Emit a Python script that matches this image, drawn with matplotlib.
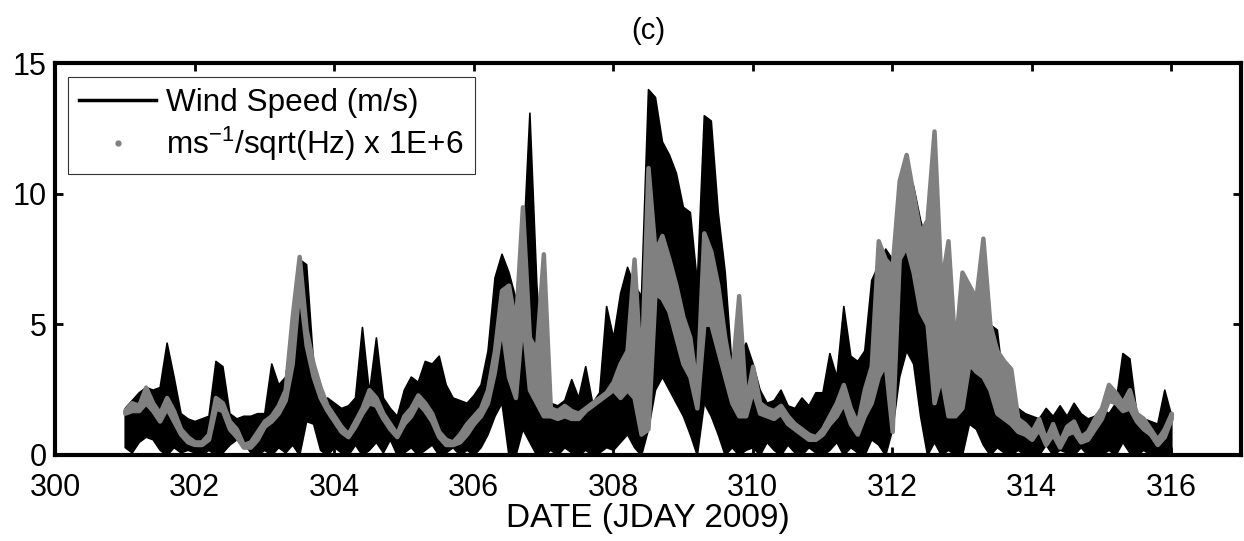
import numpy as np
import matplotlib
matplotlib.use("Agg")
import matplotlib.pyplot as plt
from matplotlib.lines import Line2D

plt.rcParams['font.family'] = ['Liberation Sans', 'DejaVu Sans']
plt.rcParams['mathtext.fontset'] = 'custom'
plt.rcParams['mathtext.rm'] = 'Liberation Sans'
plt.rcParams['mathtext.it'] = 'Liberation Sans:italic'

# samples every 0.1 day from JDAY 301.0 to 316.0
day_start = 301.0
day_step = 0.1

# wind speed: upper and lower edge of the noisy black trace (m/s)
wind_hi = [
    1.8, 2.1, 2.4, 2.6, 2.5, 2.6, 4.3, 3.0, 1.6, 1.4,
    1.3, 1.4, 1.5, 3.6, 3.4, 1.6, 1.4, 1.5, 1.5, 1.6,
    1.6, 3.5, 2.7, 3.0, 5.0, 7.5, 7.3, 3.5, 2.0, 2.2,
    2.0, 1.8, 1.9, 2.2, 4.9, 2.4, 4.5, 2.2, 1.8, 1.5,
    2.5, 3.0, 2.8, 3.6, 3.5, 3.8, 2.7, 2.2, 2.1, 2.0,
    2.3, 2.7, 4.0, 6.8, 7.7, 7.0, 6.0, 7.5, 13.1, 6.5,
    3.0, 2.0, 1.9, 2.1, 2.9, 2.2, 3.4, 2.0, 2.4, 5.7,
    4.5, 6.2, 7.2, 6.5, 6.1, 14.0, 13.7, 12.0, 11.5, 10.8,
    9.5, 9.3, 6.6, 13.0, 12.8, 9.3, 7.0, 3.3, 3.8, 4.3,
    3.5, 2.5, 2.0, 2.1, 2.5, 1.9, 1.8, 2.2, 1.9, 2.4,
    2.4, 3.9, 3.0, 5.7, 3.8, 3.6, 4.0, 6.7, 7.3, 7.9,
    7.5, 9.0, 10.0, 10.3, 9.0, 8.0, 12.4, 4.2, 3.0, 3.5,
    5.0, 5.8, 5.5, 6.0, 5.0, 4.8, 2.5, 2.0, 1.8, 1.6,
    1.5, 1.4, 1.8, 1.5, 1.9, 1.5, 2.0, 1.6, 1.4, 1.5,
    1.8, 1.6, 2.0, 3.9, 3.7, 1.6, 1.4, 1.3, 1.2, 2.5,
    1.5,
]
wind_lo = [
    0.3, 0.1, 0.5, 0.7, 0.6, 0.2, 0.0, 0.3, 0.1, 0.2,
    0.1, 0.0, 0.2, 0.0, 0.1, 0.4, 0.6, 0.5, 0.1, 0.0,
    0.2, 0.0, 0.3, 0.1, 0.4, 0.0, 1.3, 1.2, 0.2, 0.0,
    0.3, 0.1, 0.0, 0.4, 0.0, 0.2, 0.5, 0.1, 0.6, 0.0,
    0.1, 0.3, 0.0, 0.2, 0.4, 0.0, 0.1, 0.3, 0.0, 0.2,
    0.0, 0.3, 0.8, 1.5, 2.0, 0.0, 0.0, 1.0, 0.5, 0.0,
    0.0, 0.2, 0.0, 0.3, 0.1, 0.0, 0.2, 0.0, 0.1, 0.3,
    0.2, 0.5, 0.8, 0.3, 0.0, 1.0, 2.5, 3.0, 2.5, 2.0,
    1.5, 0.8, 0.0, 2.0, 1.5, 0.8, 0.0, 0.3, 0.0, 0.2,
    0.3, 0.0, 0.5, 0.2, 0.0, 0.4, 0.1, 0.0, 0.3, 0.1,
    0.0, 0.2, 0.5, 0.0, 0.3, 0.1, 0.0, 0.6, 0.4, 0.0,
    1.0, 3.0, 4.0, 3.5, 1.5, 0.0, 0.5, 0.0, 0.2, 0.0,
    0.0, 1.2, 1.0, 0.4, 0.0, 0.3, 0.1, 0.0, 0.2, 0.0,
    0.1, 0.0, 0.4, 0.0, 0.2, 0.1, 0.0, 0.3, 0.0, 0.1,
    0.0, 0.2, 0.0, 0.5, 0.1, 0.0, 0.2, 0.0, 0.1, 0.0,
    0.0,
]

# noise spectral level (x 1E+6): upper and lower edge of the grey dots
psd_hi = [
    1.7, 2.0, 1.9, 2.6, 2.0, 1.6, 2.2, 1.7, 1.0, 0.7,
    0.5, 0.5, 0.8, 2.2, 2.0, 1.3, 1.0, 0.4, 0.5, 0.9,
    1.3, 1.5, 1.9, 2.5, 5.3, 7.6, 4.8, 3.5, 2.6, 1.9,
    1.5, 1.1, 0.8, 1.3, 1.8, 2.5, 2.2, 1.6, 1.2, 0.8,
    1.5, 1.8, 2.3, 2.0, 1.6, 0.9, 0.6, 0.5, 0.8, 1.2,
    1.5, 1.8, 2.5, 4.0, 6.3, 6.5, 5.0, 9.5, 4.5, 4.0,
    7.7, 1.8, 1.7, 1.9, 1.7, 1.6, 1.8, 2.0, 2.2, 2.4,
    2.8, 3.5, 4.0, 7.5, 3.0, 11.0, 7.8, 8.4, 7.5, 6.5,
    5.3, 4.5, 2.5, 8.5, 7.8, 6.5, 4.5, 3.0, 6.1, 2.0,
    3.4, 2.0, 1.8, 1.7, 1.9, 1.5, 1.2, 1.0, 0.8, 0.7,
    1.0, 1.5, 2.0, 2.7, 1.8, 1.2, 2.5, 3.4, 8.2, 7.5,
    7.2, 10.5, 11.5, 10.0, 8.5, 9.0, 12.4, 6.5, 8.2, 4.0,
    7.0, 6.5, 6.0, 8.3, 5.0, 4.0, 3.6, 3.3, 1.4, 1.2,
    0.9, 1.4, 0.6, 1.2, 0.5, 1.1, 1.3, 0.7, 0.9, 1.4,
    1.8, 2.7, 2.4, 2.0, 2.5, 1.6, 1.4, 1.0, 0.6, 1.0,
    1.6,
]
psd_lo = [
    1.6, 1.7, 1.7, 2.0, 1.7, 1.3, 1.8, 1.3, 0.8, 0.5,
    0.4, 0.4, 0.6, 1.8, 1.7, 1.0, 0.7, 0.3, 0.3, 0.6,
    1.1, 1.3, 1.6, 2.1, 3.5, 6.5, 4.2, 3.0, 2.2, 1.7,
    1.3, 0.9, 0.7, 1.1, 1.6, 2.0, 1.9, 1.4, 1.0, 0.7,
    1.2, 1.5, 2.0, 1.7, 1.3, 0.7, 0.4, 0.4, 0.5, 0.8,
    1.2, 1.5, 2.0, 3.2, 5.0, 3.0, 2.2, 5.3, 2.5, 2.0,
    1.5, 1.5, 1.4, 1.5, 1.4, 1.4, 1.7, 1.9, 2.1, 2.3,
    2.5, 2.2, 2.5, 2.2, 0.8, 1.0, 6.2, 6.0, 5.5, 4.5,
    3.5, 3.0, 1.8, 5.0, 5.0, 4.0, 3.0, 2.0, 1.5, 1.5,
    2.5, 1.6, 1.5, 1.4, 1.6, 1.2, 1.0, 0.8, 0.6, 0.6,
    0.8, 1.2, 1.5, 2.0, 1.2, 0.8, 1.5, 2.0, 3.0, 3.5,
    0.9, 7.5, 8.0, 7.0, 5.5, 5.0, 2.0, 3.0, 1.5, 1.5,
    1.8, 3.5, 3.2, 3.0, 2.5, 1.6, 1.4, 1.2, 0.9, 0.8,
    0.6, 1.0, 0.4, 0.8, 0.3, 0.8, 0.9, 0.5, 0.6, 1.0,
    1.4, 2.1, 2.0, 1.7, 1.8, 1.3, 1.0, 0.8, 0.4, 0.7,
    1.4,
]

x_ticks = [300, 302, 304, 306, 308, 310, 312, 314, 316]
y_ticks = [0, 5, 10, 15]

t = day_start + day_step * np.arange(len(wind_hi))

fig = plt.figure(figsize=(12.44, 5.41), dpi=100)
ax = fig.add_axes([0.0442, 0.159, 0.9534, 0.7245])

ax.fill_between(t, wind_lo, wind_hi, facecolor='black', edgecolor='black',
                lw=1.2)
ax.fill_between(t, psd_lo, psd_hi, facecolor='#808080', edgecolor='#808080',
                lw=3.2, joinstyle='round')

handles = [
    Line2D([], [], color='black', lw=2.5),
    Line2D([], [], color='#808080', ls='none', marker='.', ms=7),
]
labels = ['Wind Speed (m/s)', r'ms$^{\mathrm{-1}}$/sqrt(Hz) x 1E+6']
leg = ax.legend(handles, labels, loc='upper left', bbox_to_anchor=(0.011, 0.964),
                borderaxespad=0, fontsize=22.7, frameon=True, fancybox=False,
                handlelength=2.45, handletextpad=0.32, borderpad=0.35,
                labelspacing=0.2)
leg.get_frame().set_edgecolor('black')
leg.get_frame().set_linewidth(0.8)

ax.set_xlim(300, 317)
ax.set_ylim(0, 15)
ax.set_xticks(x_ticks)
ax.set_yticks(y_ticks)
ax.tick_params(direction='in', length=6, width=2, labelsize=22,
               top=True, right=True)
ax.tick_params(axis='x', pad=13)
ax.tick_params(axis='y', pad=6)
for s in ax.spines.values():
    s.set_linewidth(3)

ax.set_xlabel('DATE (JDAY 2009)', fontsize=24, labelpad=0)
ax.set_title('(c)', fontsize=21, pad=17)

fig.savefig('out.png', dpi=100)
